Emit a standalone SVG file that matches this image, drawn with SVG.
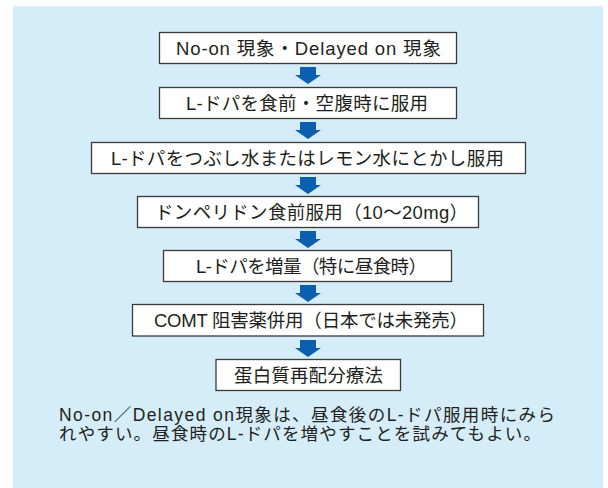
<svg xmlns="http://www.w3.org/2000/svg" width="608" height="488" viewBox="0 0 608 488">
<style>
.box{fill:#ffffff;stroke:#3a3a3a;stroke-width:1.3}
.t{font-family:"Liberation Sans","Noto Sans CJK JP",sans-serif;font-size:18.5px;fill:#231f20}
.n{font-family:"Liberation Sans","Noto Sans CJK JP",sans-serif;font-size:17.5px;fill:#231f20}
.arr{fill:#0b5fae}
</style>
<defs>
<path id="arrow" class="arr" d="M300,0 h16 v8 h5 l-13,9 l-13,-9 h5 z"/>
</defs>
<rect x="13" y="6" width="590" height="482" fill="#d5ecf9"/>
<g id="connectors">
<use href="#arrow" y="67"/>
<use href="#arrow" y="122"/>
<use href="#arrow" y="177"/>
<use href="#arrow" y="231"/>
<use href="#arrow" y="285"/>
<use href="#arrow" y="340"/>
</g>
<g id="n1"><rect class="box" x="159.5" y="32.5" width="297" height="31"/><text class="t" x="176" y="55" textLength="265" lengthAdjust="spacing">No-on 現象・Delayed on 現象</text></g>
<g id="n2"><rect class="box" x="159.5" y="87.5" width="297" height="31"/><text class="t" x="186" y="110" textLength="242" lengthAdjust="spacing">L-ドパを食前・空腹時に服用</text></g>
<g id="n3"><rect class="box" x="91.5" y="142.5" width="434" height="31"/><text class="t" x="111" y="165" textLength="393" lengthAdjust="spacing">L-ドパをつぶし水またはレモン水にとかし服用</text></g>
<g id="n4"><rect class="box" x="137.5" y="196.5" width="341" height="31"/><text class="t" x="155" y="219" textLength="313" lengthAdjust="spacing">ドンペリドン食前服用（10〜20mg）</text></g>
<g id="n5"><rect class="box" x="163.5" y="250.5" width="288" height="31"/><text class="t" x="196" y="273" textLength="231" lengthAdjust="spacing">L-ドパを増量（特に昼食時）</text></g>
<g id="n6"><rect class="box" x="132.5" y="304.5" width="351" height="31.5"/><text class="t" x="154" y="327" textLength="314" lengthAdjust="spacing">COMT 阻害薬併用（日本では未発売）</text></g>
<g id="n7"><rect class="box" x="216" y="359.5" width="184.5" height="31"/><text class="t" x="234" y="382" textLength="149" lengthAdjust="spacing">蛋白質再配分療法</text></g>
<g id="note">
<text class="n" x="59" y="421" textLength="496" lengthAdjust="spacing">No-on／Delayed on現象は、昼食後のL-ドパ服用時にみら</text>
<text class="n" x="59" y="439.5" textLength="482" lengthAdjust="spacing">れやすい。昼食時のL-ドパを増やすことを試みてもよい。</text>
</g>
</svg>
